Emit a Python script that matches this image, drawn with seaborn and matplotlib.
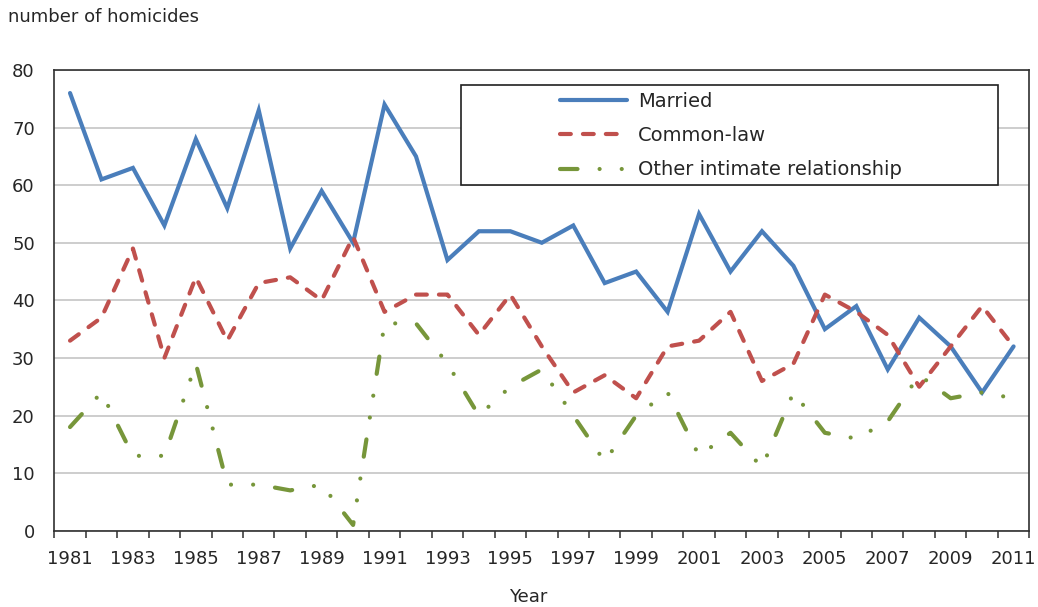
import numpy as np
import pandas as pd
import matplotlib
matplotlib.use("Agg")
import matplotlib.pyplot as plt
import matplotlib.patches as mpatches
import seaborn as sns

# data
years = list(range(1981, 2012))
married = [76, 61, 63, 53, 68, 56, 73, 49, 59, 50,
           74, 65, 47, 52, 52, 50, 53, 43, 45, 38,
           55, 45, 52, 46, 35, 39, 28, 37, 32, 24, 32]
common_law = [33, 37, 49, 30, 44, 33, 43, 44, 40, 51,
              38, 41, 41, 34, 41, 32, 24, 27, 23, 32,
              33, 38, 26, 29, 41, 38, 34, 25, 32, 39, 32]
other_intimate = [18, 24, 13, 13, 29, 8, 8, 7, 8, 1,
                  36, 36, 29, 20, 25, 28, 20, 12, 20, 24,
                  13, 17, 11, 24, 17, 16, 19, 27, 23, 24, 23]

series_names = ["Married", "Common-law", "Other intimate relationship"]
colors = ["#4a7ebb", "#c0504d", "#77963a"]
styles = ["-", (0, (2.6, 2.9)), (0, (4.2, 5.3, 0.01, 5.3, 0.01, 5.3))]
y_ticks = list(range(0, 90, 10))
x_labels = list(range(1981, 2012, 2))

df = pd.DataFrame({"year": years, "Married": married,
                   "Common-law": common_law,
                   "Other intimate relationship": other_intimate})
long_df = df.melt(id_vars="year", var_name="type", value_name="count")

sns.set_style("white")
plt.rcParams["font.family"] = ["DejaVu Sans"]

W, H = 1038, 607
fig = plt.figure(figsize=(W / 100, H / 100), dpi=100)
ax = fig.add_axes([54.3 / W, 1 - 530.7 / H, (1029.3 - 54.3) / W, (530.7 - 70) / H])

for name, col, ls in zip(series_names, colors, styles):
    sub = long_df[long_df["type"] == name]
    sns.lineplot(data=sub, x="year", y="count", ax=ax, color=col,
                 linestyle=ls, linewidth=3, label=name,
                 solid_capstyle="round", dash_capstyle="round",
                 solid_joinstyle="miter", errorbar=None)

ax.set_xlim(1980.5, 2011.5)
ax.set_ylim(0, 80)
ax.set_yticks(y_ticks)
ax.set_xticks(x_labels)
ax.set_xticks(np.arange(1980.5, 2012, 1), minor=True)
ax.tick_params(axis="x", which="major", length=0, pad=14, labelsize=13)
ax.tick_params(axis="x", which="minor", length=5, width=1.2, direction="out",
               color="#404040", bottom=True)
ax.tick_params(axis="y", length=0, pad=14, labelsize=13)
ax.set_xlabel("")
ax.set_ylabel("")
ax.grid(axis="y", color="#c0c0c0", linewidth=1.1)
ax.set_axisbelow(True)
for sp in ax.spines.values():
    sp.set_visible(True)
    sp.set_color("#303030")
    sp.set_linewidth(1.2)

# legend box (white, covers the gridlines), legend drawn on top of it
box = mpatches.Rectangle((461 / W, 1 - 185 / H), 537 / W, 100 / H,
                         transform=fig.transFigure, facecolor="white",
                         edgecolor="#202020", linewidth=1.2, zorder=5)
ax.add_patch(box)
leg = ax.legend(loc="upper left", bbox_to_anchor=(560 / W, 1 - 92 / H),
                bbox_transform=fig.transFigure, frameon=False, fontsize=14,
                handlelength=3.45, handletextpad=0.55, labelspacing=0.78,
                borderpad=0, borderaxespad=0)
leg.set_zorder(10)

fig.text(8 / W, 1 - 17 / H, "number of homicides", fontsize=13,
         ha="left", va="center")
fig.text(528 / W, 1 - 597 / H, "Year", fontsize=13, ha="center", va="center")

fig.savefig("out.png", dpi=100)
